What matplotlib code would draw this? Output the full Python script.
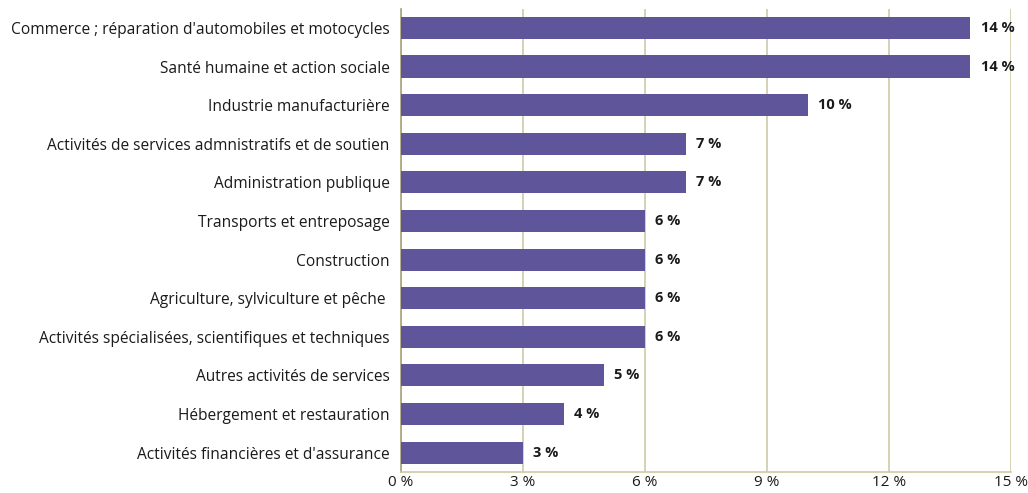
import matplotlib
matplotlib.use("Agg")
import matplotlib.pyplot as plt

categories = [
    "Commerce ; réparation d'automobiles et motocycles",
    "Santé humaine et action sociale",
    "Industrie manufacturière",
    "Activités de services admnistratifs et de soutien",
    "Administration publique",
    "Transports et entreposage",
    "Construction",
    "Agriculture, sylviculture et pêche ",
    "Activités spécialisées, scientifiques et techniques",
    "Autres activités de services",
    "Hébergement et restauration",
    "Activités financières et d'assurance",
]
values = [14, 14, 10, 7, 7, 6, 6, 6, 6, 5, 4, 3]
xticks = [0, 3, 6, 9, 12, 15]
xtick_labels = ["0 %", "3 %", "6 %", "9 %", "12 %", "15 %"]

plt.rcParams['font.family'] = ['Open Sans', 'DejaVu Sans']

fig = plt.figure(figsize=(10.28, 4.93), dpi=100)
ax = fig.add_axes([0.390, 0.0426, 0.5935, 0.940])

bar_color = "#5f559b"
grid_color = "#cdc9a8"
n = len(categories)
ypos = list(range(n))
ax.barh(ypos, values, height=0.57, color=bar_color, zorder=3)
ax.set_ylim(n - 0.5, -0.5)
ax.set_xlim(0, 15)
ax.set_yticks(ypos)
ax.set_yticklabels(categories, fontsize=11.2, color="#1a1a1a")
ax.set_xticks(xticks)
ax.set_xticklabels(xtick_labels, fontsize=11, color="#1a1a1a")
ax.tick_params(axis='y', length=0, pad=8)
ax.tick_params(axis='x', length=0, pad=2)
ax.grid(axis='x', color=grid_color, linewidth=1.2, zorder=0)
for s in ['top', 'right']:
    ax.spines[s].set_visible(False)
ax.spines['left'].set_color("#a8a37a")
ax.spines['left'].set_linewidth(1.2)
ax.spines['bottom'].set_color(grid_color)
ax.spines['bottom'].set_linewidth(1.2)

for y, v in zip(ypos, values):
    ax.text(v + 0.25, y, f"{v} %", va='center', ha='left', fontsize=10.5,
            fontweight='bold', color="#1a1a1a")

fig.savefig("out.png", dpi=100)
